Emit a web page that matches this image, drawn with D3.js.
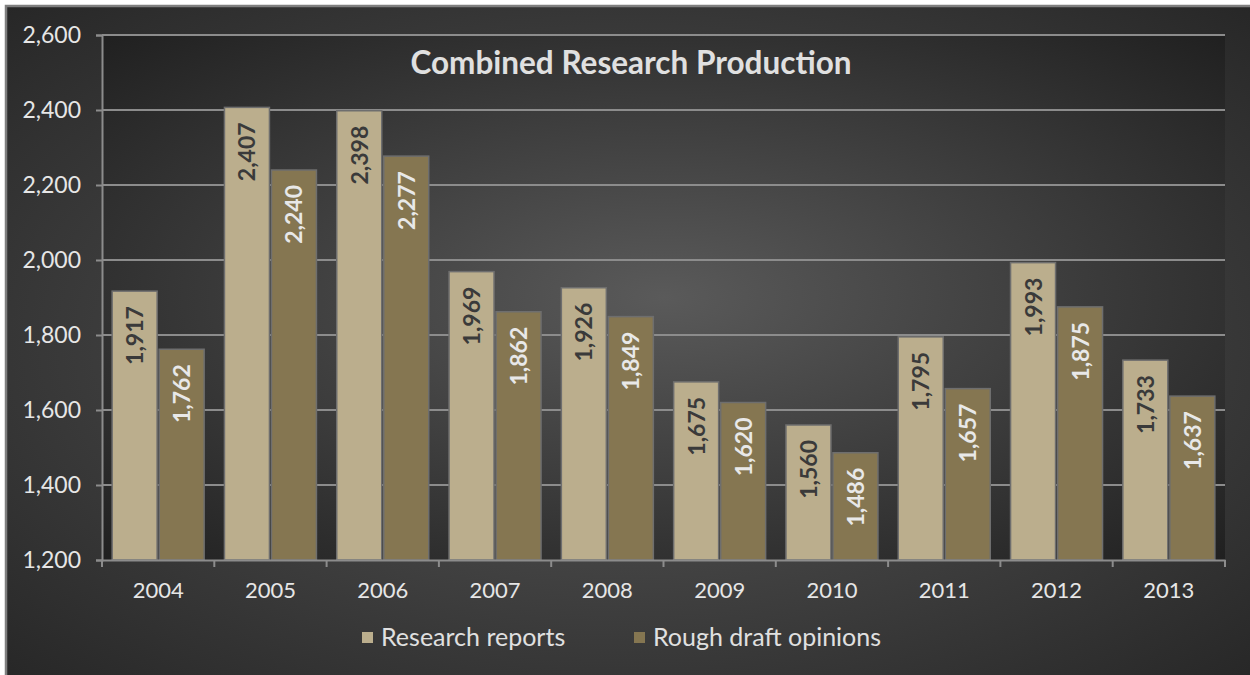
<!DOCTYPE html>
<html><head><meta charset="utf-8">
<script src="https://cdn.jsdelivr.net/npm/d3@7"></script>
<style>html,body{margin:0;padding:0;background:#fff;}svg{display:block;}</style>
</head><body>
<svg id="chart" width="1250" height="675"></svg>
<script>
const categories = ["2004","2005","2006","2007","2008","2009","2010","2011","2012","2013"];
const seriesNames = ["Research reports","Rough draft opinions"];
const researchReports = [1917,2407,2398,1969,1926,1675,1560,1795,1993,1733];
const roughDraftOpinions = [1762,2240,2277,1862,1849,1620,1486,1657,1875,1637];
const yTicks = [1200,1400,1600,1800,2000,2200,2400,2600];
const titleText = "Combined Research Production";

const colors = ["#bbae8d","#857651"];
const labelColors = ["#3a3a3a","#e8e8e8"];
const FONT = "Lato, 'Open Sans', sans-serif";

const svg = d3.select("#chart");
const defs = svg.append("defs");
function radial(id, inner, outer){
  const g = defs.append("radialGradient").attr("id", id)
    .attr("cx","50%").attr("cy","50%").attr("r","72%");
  g.append("stop").attr("offset","0%").attr("stop-color",inner);
  g.append("stop").attr("offset","100%").attr("stop-color",outer);
}
radial("bgGrad","#5a5a5a","#262626");
radial("plotGrad","#5a5a5a","#1f1f1f");

// chart area
svg.append("rect").attr("x",6).attr("y",6).attr("width",1250).attr("height",675)
  .attr("fill","url(#bgGrad)").attr("stroke","#7f7f7f").attr("stroke-width",2.5);

const plot = {left:102, right:1225, top:35, bottom:560};
const x = d3.scaleBand().domain(categories).range([plot.left, plot.right]).padding(0);
const x1 = d3.scaleBand().domain(seriesNames).range([0, x.bandwidth()]).paddingInner(0.043).paddingOuter(0.216);
const y = d3.scaleLinear().domain([1200,2600]).range([plot.bottom, plot.top]);

svg.append("rect").attr("x",plot.left).attr("y",plot.top)
  .attr("width",plot.right-plot.left).attr("height",plot.bottom-plot.top)
  .attr("fill","url(#plotGrad)");

// gridlines
svg.append("g").selectAll("line").data(yTicks.filter(d=>d>1200)).join("line")
  .attr("x1",plot.left).attr("x2",plot.right)
  .attr("y1",d=>y(d)).attr("y2",d=>y(d))
  .attr("stroke","#8c8c8c").attr("stroke-width",2);

// y axis
const yAxis = svg.append("g").attr("transform",`translate(${plot.left},0)`)
  .call(d3.axisLeft(y).tickValues(yTicks).tickFormat(d3.format(",")).tickSize(6).tickPadding(15));
yAxis.select(".domain").attr("stroke","#8c8c8c").attr("stroke-width",2);
yAxis.selectAll(".tick line").attr("stroke","#8c8c8c").attr("stroke-width",2);
yAxis.selectAll("text").attr("fill","#e6e6e6").attr("font-family",FONT).attr("font-size",23);

// bars
const seriesData = [researchReports, roughDraftOpinions];
const groups = svg.append("g").selectAll("g").data(seriesData).join("g");
groups.each(function(vals, si){
  const g = d3.select(this);
  g.selectAll("rect").data(vals).join("rect")
    .attr("x",(d,i)=>x(categories[i]) + x1(seriesNames[si]))
    .attr("width",x1.bandwidth())
    .attr("y",d=>y(d))
    .attr("height",d=>y(1200)-y(d))
    .attr("fill",colors[si])
    .attr("stroke","#6e6e6e").attr("stroke-width",1.5);
  g.selectAll("text").data(vals).join("text")
    .attr("transform",(d,i)=>{
      const cx = x(categories[i]) + x1(seriesNames[si]) + x1.bandwidth()/2;
      return `translate(${cx+8.5},${y(d)+15}) rotate(-90)`;
    })
    .attr("text-anchor","end")
    .attr("font-family",FONT).attr("font-weight","bold").attr("font-size",23)
    .attr("fill",labelColors[si])
    .text(d=>d3.format(",")(d));
});

// x axis
const xAxis = svg.append("g").attr("transform",`translate(0,${plot.bottom})`)
  .call(d3.axisBottom(x).tickSize(0).tickPadding(22));
xAxis.select(".domain").attr("stroke","#8c8c8c").attr("stroke-width",2);
xAxis.selectAll("text").attr("fill","#e6e6e6").attr("font-family",FONT).attr("font-size",22);
svg.append("g").selectAll("line").data(d3.range(categories.length+1)).join("line")
  .attr("x1",i=>plot.left + i*x.step()).attr("x2",i=>plot.left + i*x.step())
  .attr("y1",plot.bottom).attr("y2",plot.bottom+7)
  .attr("stroke","#8c8c8c").attr("stroke-width",2);

// title
svg.append("text").attr("x",631).attr("y",74).attr("text-anchor","middle")
  .attr("font-family",FONT).attr("font-weight","bold").attr("font-size",31.5)
  .attr("fill","#e0e0e0").text(titleText);

// legend
const legendX = [362, 634];
const lg = svg.append("g").selectAll("g").data(seriesNames).join("g")
  .attr("transform",(d,i)=>`translate(${legendX[i]},632)`);
lg.append("rect").attr("width",11).attr("height",11).attr("fill",(d,i)=>colors[i]);
lg.append("text").attr("x",19).attr("y",14).attr("font-family",FONT).attr("font-size",25)
  .attr("fill","#e0e0e0").text(d=>d);
</script>
</body></html>
